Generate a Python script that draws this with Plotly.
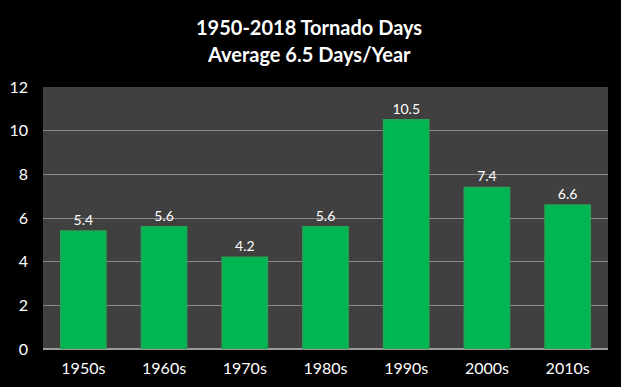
import plotly.graph_objects as go

categories = ["1950s", "1960s", "1970s", "1980s", "1990s", "2000s", "2010s"]
values = [5.4, 5.6, 4.2, 5.6, 10.5, 7.4, 6.6]
labels = ["5.4", "5.6", "4.2", "5.6", "10.5", "7.4", "6.6"]
title_lines = ["1950-2018 Tornado Days", "Average 6.5 Days/Year"]

fig = go.Figure()
fig.add_trace(go.Bar(
    x=categories, y=values, text=labels, textposition="outside",
    textfont=dict(color="white", size=14, family="Lato"),
    marker=dict(color="#00B652", line=dict(color="#1FA853", width=1.5)),
    cliponaxis=False,
))

fig.update_layout(
    width=621, height=387,
    paper_bgcolor="black", plot_bgcolor="#404040",
    margin=dict(l=43, r=13, t=87, b=38, autoexpand=False),
    bargap=0.44, showlegend=False,
    font=dict(family="Lato", color="white"),
    annotations=[
        dict(text="<b>%s</b>" % title_lines[0], x=0.47, y=1.229, xref="paper", yref="paper",
             showarrow=False, font=dict(size=20, color="white", family="Lato"), yanchor="middle"),
        dict(text="<b>%s</b>" % title_lines[1], x=0.47, y=1.126, xref="paper", yref="paper",
             showarrow=False, font=dict(size=20, color="white", family="Lato"), yanchor="middle"),
    ],
)
fig.update_yaxes(range=[0, 12], dtick=2, gridcolor="#8a8a8a", gridwidth=1,
                 zeroline=True, zerolinecolor="#9a9a9a", zerolinewidth=1.5,
                 tickfont=dict(size=16, color="white"), ticklabelstandoff=14,
                 showline=False, automargin=False)
fig.update_xaxes(tickfont=dict(size=16, color="white"), ticklabelstandoff=8,
                 showgrid=False, automargin=False)

fig.write_html("out.html", config={"displayModeBar": False},
               post_script="document.body.style.margin='0';document.body.style.background='black';")
